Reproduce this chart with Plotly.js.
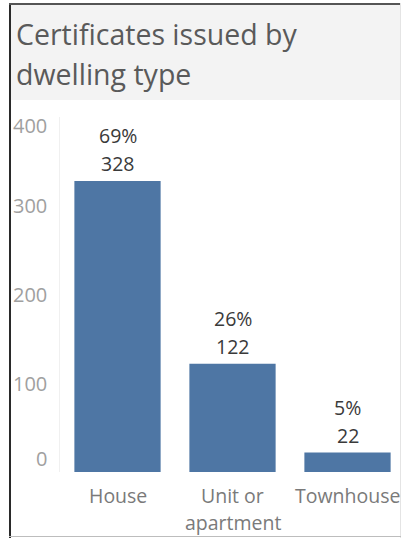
<!DOCTYPE html>
<html>
<head>
<meta charset="utf-8">
<script src="https://cdn.plot.ly/plotly-3.0.1.min.js"></script>
<style>
  html, body { margin: 0; padding: 0; background: #ffffff; }
  #wrap { position: relative; width: 404px; height: 538px; overflow: hidden; }
  #band { position: absolute; left: 10px; top: 4px; width: 390px; height: 96px; background: #f3f3f3; }
  #lborder { position: absolute; left: 9px; top: 3px; width: 1.5px; height: 535px; background: #2a2a2a; }
  #tborder { position: absolute; left: 9px; top: 3px; width: 391px; height: 1.5px; background: #555555; }
  #rborder { position: absolute; left: 400px; top: 3px; width: 1px; height: 535px; background: #e4e4e4; }
  #bborder { position: absolute; left: 9px; top: 536px; width: 392px; height: 1px; background: #bdbdbd; }
  #chart { position: absolute; left: 0; top: 0; width: 404px; height: 538px; }
</style>
</head>
<body>
<div id="wrap">
  <div id="band"></div>
  <div id="lborder"></div>
  <div id="tborder"></div>
  <div id="rborder"></div>
  <div id="bborder"></div>
  <div id="chart"></div>
</div>
<script>
// ---- data ----
const categories = ["House", "Unit or\napartment", "Townhouse"];
const counts = [328, 122, 22];
const percents = ["69%", "26%", "5%"];
const tickVals = [0, 100, 200, 300, 400];
const tickText = ["0", "100", "200", "300", "400"];
const titleLines = ["Certificates issued by", "dwelling type"];

// ---- layout geometry ----
const W = 404, H = 538;
const M = { l: 60, r: 6, t: 117, b: 66 };
const plotH = H - M.t - M.b;
const plotW = W - M.l - M.r;
const pxX = px => (px - M.l) / plotW;
const pxY = py => (H - M.b - py) / plotH;
const FONT = 'Open Sans, Noto Sans, sans-serif';

const xIdx = categories.map((c, i) => i);

const annotations = [];

// title lines
titleLines.forEach((t, i) => {
  annotations.push({
    text: t, xref: 'paper', yref: 'paper',
    x: pxX(14), y: pxY(34 + i * 40),
    xanchor: 'left', yanchor: 'middle', showarrow: false,
    font: { family: FONT, size: 28.5, color: '#5a5a5a' }
  });
});

// value labels
counts.forEach((v, i) => {
  annotations.push({
    text: String(v), xref: 'x', yref: 'y', x: xIdx[i], y: v,
    yanchor: 'middle', yshift: 17, showarrow: false,
    font: { family: FONT, size: 19.5, color: '#3a3a3a' }
  });
  annotations.push({
    text: percents[i], xref: 'x', yref: 'y', x: xIdx[i], y: v,
    yanchor: 'middle', yshift: 45, showarrow: false,
    font: { family: FONT, size: 19.5, color: '#3a3a3a' }
  });
});

// x category labels (line spacing as in the reference)
categories.forEach((c, i) => {
  c.split("\n").forEach((line, j) => {
    annotations.push({
      text: line, xref: 'x', yref: 'paper', x: xIdx[i], y: 0,
      yanchor: 'middle', yshift: -23 - j * 27, showarrow: false,
      font: { family: FONT, size: 19.5, color: '#7a7a7a' }
    });
  });
});

// y tick labels (edge labels pulled inside the pane)
tickVals.forEach((v, i) => {
  let shift = 0;
  if (i === 0) shift = 14;
  if (i === tickVals.length - 1) shift = -8;
  annotations.push({
    text: tickText[i], xref: 'paper', yref: 'y', x: 0, y: v,
    xanchor: 'right', yanchor: 'middle', xshift: -11, yshift: shift, showarrow: false,
    font: { family: FONT, size: 20, color: '#a0a0a0' }
  });
});

const trace = {
  type: 'bar',
  x: xIdx,
  y: counts,
  marker: { color: '#4e76a4' },
  width: 0.75,
  hoverinfo: 'none'
};

const layout = {
  width: W, height: H,
  margin: M,
  paper_bgcolor: 'rgba(0,0,0,0)',
  plot_bgcolor: 'rgba(0,0,0,0)',
  showlegend: false,
  xaxis: {
    range: [-0.5, -0.5 + plotW / 115],
    showgrid: false, zeroline: false, showline: false,
    showticklabels: false, ticks: '', fixedrange: true
  },
  yaxis: {
    range: [0, 400],
    tickvals: tickVals,
    showgrid: false, zeroline: false,
    showline: true, linecolor: '#f0f0f0', linewidth: 1,
    showticklabels: false, ticks: '', fixedrange: true
  },
  annotations: annotations
};

Plotly.newPlot('chart', [trace], layout, { displayModeBar: false, staticPlot: true });
</script>
</body>
</html>
